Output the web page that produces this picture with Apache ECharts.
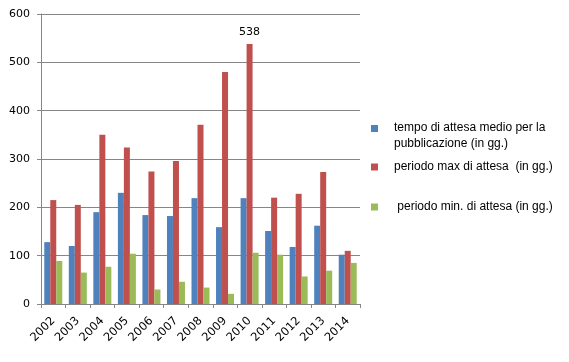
<!DOCTYPE html>
<html><head><meta charset="utf-8">
<script src="https://cdn.jsdelivr.net/npm/echarts@6/dist/echarts.min.js"></script>
<style>html,body{margin:0;padding:0;background:#fff}#c{width:569px;height:362px}</style>
</head><body><div id="c"></div>
<script>
var years = ['2002','2003','2004','2005','2006','2007','2008','2009','2010','2011','2012','2013','2014'];
var seriesNames = ['tempo di attesa medio per la pubblicazione (in gg.)', 'periodo max di attesa  (in gg.)', ' periodo min. di attesa (in gg.)'];
var medio = [128, 120, 190, 230, 184, 182, 219, 159, 219, 151, 118, 162, 102];
var massimo = [215, 205, 350, 324, 274, 296, 371, 480, 538, 220, 228, 273, 110];
var minimo = [89, 65, 77, 104, 30, 46, 34, 21, 106, 102, 57, 69, 85];
var labelledIndex = 8;
var yTicks = [0, 100, 200, 300, 400, 500, 600];

var chart = echarts.init(document.getElementById('c'), null, {renderer: 'canvas'});
var axisColor = '#868686';
var font = 'DejaVu Sans';
var legendText = {fontFamily: 'Liberation Sans', fontSize: 12, color: '#000', padding: [0, 0, 0, 11]};

var maxData = massimo.map(function (v, i) {
  if (i === labelledIndex) {
    return {value: v, label: {show: true, position: 'top', distance: 6, fontFamily: font, fontSize: 11, color: '#000'}};
  }
  return v;
});

chart.setOption({
  animation: false,
  grid: {left: 41, right: 209, top: 14, bottom: 58},
  legend: [
    {data: [seriesNames[0]], left: 371, top: 120, orient: 'vertical', itemWidth: 7, itemHeight: 30,
     icon: 'path://M0,4L7,4L7,11L0,11ZM0,0M0,30', itemGap: 0, padding: 0,
     textStyle: Object.assign({lineHeight: 16}, legendText),
     formatter: function () { return 'tempo di attesa medio per la\npubblicazione (in gg.)'; }},
    {data: [seriesNames[1]], left: 371, top: 161, itemWidth: 7, itemHeight: 7, icon: 'rect', padding: 0,
     textStyle: legendText},
    {data: [seriesNames[2]], left: 371, top: 201, itemWidth: 7, itemHeight: 7, icon: 'rect', padding: 0,
     textStyle: legendText}
  ],
  xAxis: {
    type: 'category', data: years,
    axisLine: {lineStyle: {color: axisColor}},
    axisTick: {show: true, length: 4, lineStyle: {color: axisColor}},
    axisLabel: {rotate: 45, fontFamily: font, fontSize: 11.5, color: '#000', margin: 15, interval: 0}
  },
  yAxis: {
    type: 'value', min: yTicks[0], max: yTicks[yTicks.length - 1], interval: 100,
    axisLine: {show: true, lineStyle: {color: axisColor}},
    axisTick: {show: true, length: 4, lineStyle: {color: axisColor}},
    splitLine: {lineStyle: {color: axisColor}},
    axisLabel: {fontFamily: font, fontSize: 11, color: '#000', margin: 11}
  },
  series: [
    {name: seriesNames[0], type: 'bar', data: medio, barWidth: 6, barGap: '0%', itemStyle: {color: '#4F81BD'}},
    {name: seriesNames[1], type: 'bar', data: maxData, barWidth: 6, barGap: '0%', itemStyle: {color: '#C0504D'}},
    {name: seriesNames[2], type: 'bar', data: minimo, barWidth: 6, barGap: '0%', itemStyle: {color: '#9BBB59'}}
  ]
});
</script></body></html>
